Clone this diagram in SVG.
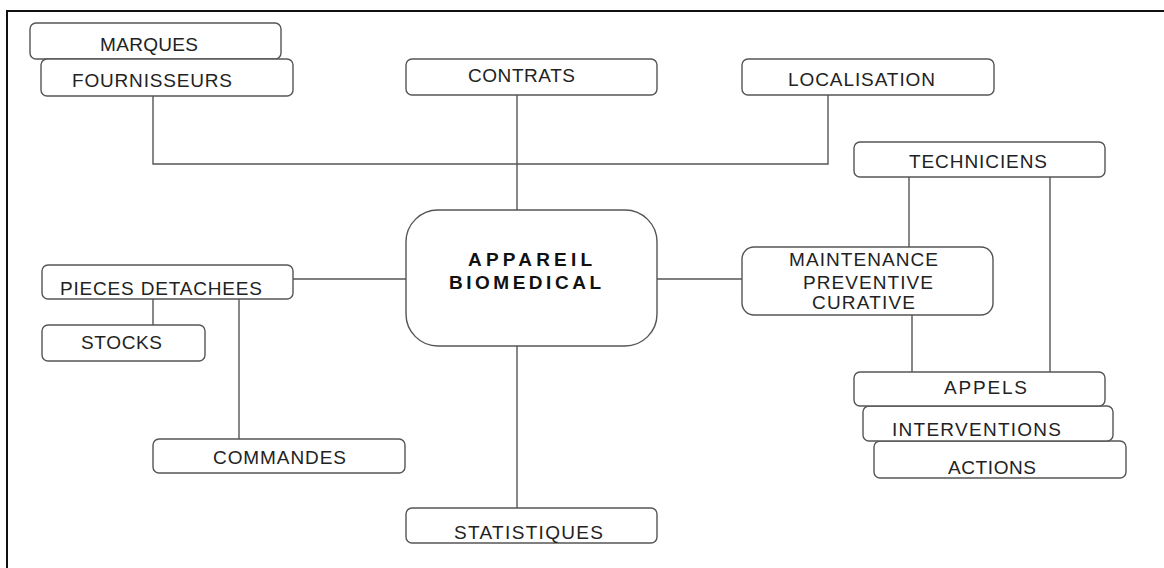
<svg xmlns="http://www.w3.org/2000/svg" width="1164" height="568" viewBox="0 0 1164 568">
<style>
.b{fill:#fff;stroke:#555;stroke-width:1.4}
.t{font-family:"Liberation Sans",Arial,sans-serif;font-size:19px;fill:#222}
.tb{font-family:"Liberation Sans",Arial,sans-serif;font-size:19px;font-weight:bold;fill:#111}
.c{fill:none;stroke:#555;stroke-width:1.4}
</style>
<rect width="1164" height="568" fill="#fff"/>
<path d="M7,568 V11 H1164" fill="none" stroke="#111" stroke-width="2"/>
<g id="connectors">
<path class="c" d="M153,96 V164 H828 V95"/>
<path class="c" d="M517,95 V210"/>
<path class="c" d="M293,279 H406"/>
<path class="c" d="M657,279 H742"/>
<path class="c" d="M517,346 V508"/>
<path class="c" d="M153,299 V325"/>
<path class="c" d="M239,299 V439"/>
<path class="c" d="M909,177 V247"/>
<path class="c" d="M1050,177 V372"/>
<path class="c" d="M912,315 V372"/>
</g>
<g id="marques"><rect class="b" x="30" y="23" width="251" height="36" rx="6"/><text class="t" x="100" y="51" textLength="98">MARQUES</text></g>
<g id="fournisseurs"><rect class="b" x="41" y="59" width="252" height="37" rx="6"/><text class="t" x="72" y="87" textLength="160">FOURNISSEURS</text></g>
<g id="contrats"><rect class="b" x="406" y="59" width="251" height="36" rx="6"/><text class="t" x="468" y="82" textLength="107">CONTRATS</text></g>
<g id="localisation"><rect class="b" x="742" y="59" width="252" height="36" rx="6"/><text class="t" x="788" y="86" textLength="147">LOCALISATION</text></g>
<g id="appareil"><rect class="b" x="406" y="210" width="251" height="136" rx="32"/><text class="tb" x="468" y="266" textLength="124">APPAREIL</text><text class="tb" x="449" y="289" textLength="152">BIOMEDICAL</text></g>
<g id="techniciens"><rect class="b" x="854" y="142" width="251" height="35" rx="6"/><text class="t" x="909" y="168" textLength="138">TECHNICIENS</text></g>
<g id="maintenance"><rect class="b" x="742" y="247" width="251" height="68" rx="12"/><text class="t" x="789" y="266" textLength="149">MAINTENANCE</text><text class="t" x="803" y="289" textLength="130">PREVENTIVE</text><text class="t" x="812" y="309" textLength="103">CURATIVE</text></g>
<g id="pieces"><rect class="b" x="42" y="265" width="251" height="34" rx="6"/><text class="t" x="60" y="295" textLength="202">PIECES DETACHEES</text></g>
<g id="stocks"><rect class="b" x="42" y="325" width="163" height="36" rx="6"/><text class="t" x="81" y="349" textLength="81">STOCKS</text></g>
<g id="commandes"><rect class="b" x="153" y="439" width="252" height="34" rx="6"/><text class="t" x="213" y="464" textLength="133">COMMANDES</text></g>
<g id="statistiques"><rect class="b" x="406" y="508" width="251" height="35" rx="6"/><text class="t" x="454" y="539" textLength="149">STATISTIQUES</text></g>
<g id="actions"><rect class="b" x="874" y="441" width="252" height="37" rx="6"/><text class="t" x="948" y="474" textLength="88">ACTIONS</text></g>
<g id="interventions"><rect class="b" x="863" y="406" width="250" height="35" rx="6"/><text class="t" x="892" y="436" textLength="169">INTERVENTIONS</text></g>
<g id="appels"><rect class="b" x="854" y="372" width="251" height="34" rx="6"/><text class="t" x="944" y="394" textLength="83">APPELS</text></g>
</svg>
